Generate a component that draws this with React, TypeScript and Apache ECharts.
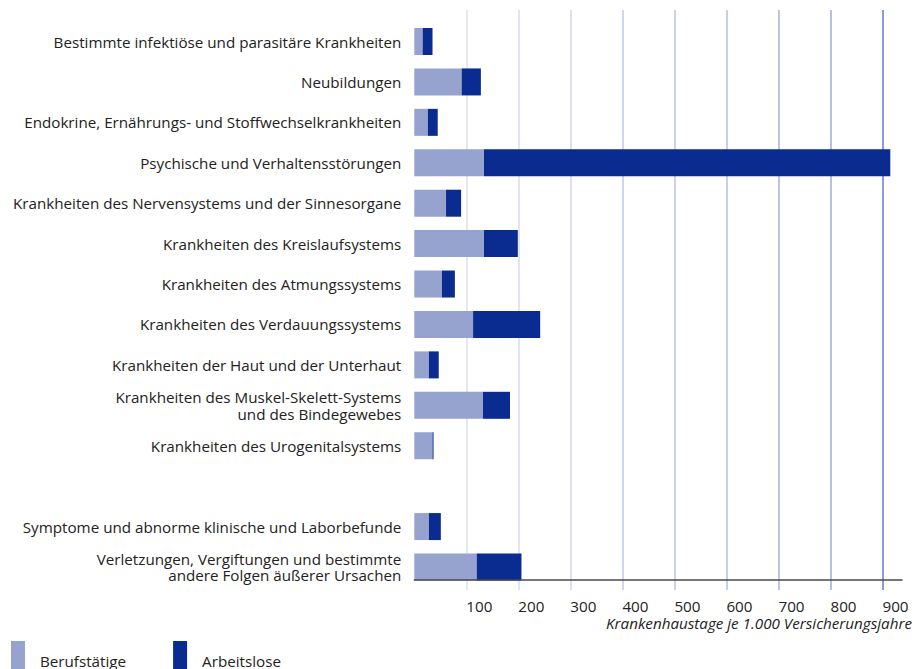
import React, { useEffect, useRef } from "react";
import * as echarts from "echarts";

const categories = [
  "Bestimmte infektiöse und parasitäre Krankheiten",
  "Neubildungen",
  "Endokrine, Ernährungs- und Stoffwechselkrankheiten",
  "Psychische und Verhaltensstörungen",
  "Krankheiten des Nervensystems und der Sinnesorgane",
  "Krankheiten des Kreislaufsystems",
  "Krankheiten des Atmungssystems",
  "Krankheiten des Verdauungssystems",
  "Krankheiten der Haut und der Unterhaut",
  "Krankheiten des Muskel-Skelett-Systems\nund des Bindegewebes",
  "Krankheiten des Urogenitalsystems",
  "",
  "Symptome und abnorme klinische und Laborbefunde",
  "Verletzungen, Vergiftungen und bestimmte\nandere Folgen äußerer Ursachen",
];

const berufstaetige = [16, 91, 26, 134, 61, 134, 53, 113, 28, 132, 35, null, 28, 120];
const arbeitslose = [19, 37, 19, 781, 29, 65, 25, 129, 19, 52, 2, null, 23, 86];

const seriesNames = ["Berufstätige", "Arbeitslose"];
const axisTitle = "Krankenhaustage je 1.000 Versicherungsjahre";

const FONT = "'Open Sans', sans-serif";
const FS = 15.2;

export default function App() {
  const ref = useRef<HTMLDivElement>(null);

  useEffect(() => {
    if (!ref.current) return;
    const chart = echarts.init(ref.current, null, { renderer: "svg" });
    const gridLeft = 414.3;
    chart.setOption({
      animation: false,
      backgroundColor: "#ffffff",
      textStyle: { fontFamily: FONT },
      title: {
        text: axisTitle,
        right: 3,
        top: 615,
        padding: 0,
        textStyle: {
          fontFamily: FONT,
          fontStyle: "italic",
          fontWeight: "normal",
          fontSize: FS,
          lineHeight: 16,
          color: "#222",
        },
      },
      legend: {
        left: 11,
        top: 641,
        padding: 0,
        icon: "rect",
        itemWidth: 14,
        itemHeight: 40,
        itemGap: 47,
        data: seriesNames,
        textStyle: {
          fontFamily: FONT,
          fontSize: FS,
          color: "#222",
          padding: [0, 0, 0, 10],
        },
      },
      grid: [
        { left: gridLeft, right: 32.5, top: 10, bottom: 79 },
        { left: gridLeft, right: 13, top: 21.3, bottom: 81.8 },
        { left: gridLeft, right: 13, top: 10, bottom: 89 },
      ],
      xAxis: [
        {
          gridIndex: 0,
          type: "value",
          min: 0,
          max: 900,
          interval: 100,
          axisLine: { show: false },
          axisTick: { show: false },
          splitLine: {
            show: true,
            showMinLine: false,
            lineStyle: {
              width: 1.6,
              color: [
                "#e0e3f2",
                "#dadeef",
                "#d5d9ed",
                "#c6cce7",
                "#c0c7e5",
                "#bcc3e3",
                "#adb5dd",
                "#a7b0da",
                "#7384c4",
              ],
            },
          },
          axisLabel: {
            showMinLabel: false,
            align: "left",
            margin: 8,
            fontFamily: FONT,
            fontSize: FS,
            lineHeight: 15,
            color: "#222",
          },
        },
        {
          gridIndex: 1,
          type: "value",
          min: 0,
          max: 937.5,
          show: false,
        },
        {
          gridIndex: 2,
          type: "value",
          min: 0,
          max: 1,
          z: 10,
          axisLine: { show: true, lineStyle: { color: "#4a4a4a", width: 1.5 } },
          axisTick: { show: false },
          axisLabel: { show: false },
          splitLine: { show: false },
        },
      ],
      yAxis: [
        { gridIndex: 0, type: "value", show: false },
        {
          gridIndex: 1,
          type: "category",
          inverse: true,
          data: categories,
          axisLine: { show: false },
          axisTick: { show: false },
          axisLabel: {
            margin: 13,
            fontFamily: FONT,
            fontSize: FS,
            color: "#222",
            lineHeight: 16.5,
            align: "right",
          },
        },
        { gridIndex: 2, type: "value", show: false },
      ],
      series: [
        {
          name: seriesNames[0],
          type: "bar",
          xAxisIndex: 1,
          yAxisIndex: 1,
          stack: "total",
          barWidth: 27,
          itemStyle: { color: "#97a3cf" },
          data: berufstaetige,
        },
        {
          name: seriesNames[1],
          type: "bar",
          xAxisIndex: 1,
          yAxisIndex: 1,
          stack: "total",
          barWidth: 27,
          itemStyle: { color: "#0a2b8f" },
          data: arbeitslose,
        },
      ],
    });
    return () => chart.dispose();
  }, []);

  return <div ref={ref} style={{ width: 915, height: 669, position: "absolute", left: 0, top: 0 }} />;
}
